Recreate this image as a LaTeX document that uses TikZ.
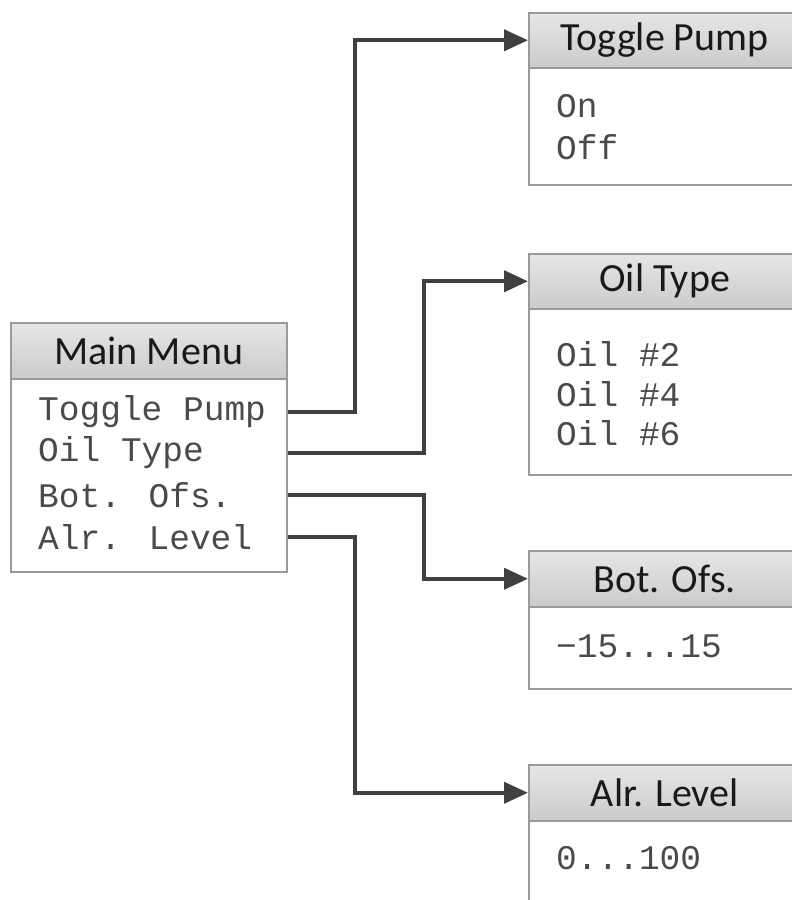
\documentclass[tikz,border=0pt]{standalone}
\usepackage{fontspec}
\setmainfont{Carlito}
\newfontfamily\menumono{Liberation Mono}
\usetikzlibrary{arrows.meta}
\definecolor{boxline}{HTML}{9A9A9A}
\definecolor{conncol}{HTML}{404040}
\definecolor{hdrtop}{HTML}{E6E6E6}
\definecolor{hdrbot}{HTML}{CBCBCB}
\definecolor{itemcol}{HTML}{4A4A4A}
\tikzset{
  hdr/.style={draw=boxline, line width=1.5pt, top color=hdrtop, bottom color=hdrbot,
    anchor=north west, inner sep=0pt, text=black!90,
    font=\fontsize{40}{45}\selectfont},
  bodybox/.style={draw=boxline, line width=1.5pt, fill=white, anchor=north west, inner sep=0pt},
  item/.style={anchor=west, inner sep=0pt, text=itemcol, font=\menumono\fontsize{34.5}{40}\selectfont},
  conn/.style={draw=conncol, line width=4pt, -{Triangle[length=24pt,width=21pt]}},
}
\begin{document}
\begin{tikzpicture}[x=1pt,y=-1pt]
\useasboundingbox (0,0) rectangle (792,900);
\clip (0,0) rectangle (792,900);
% Main menu
\node[bodybox, minimum width=276pt, minimum height=193pt] (mmb) at (10,378) {};
\node[hdr, minimum width=276pt, minimum height=56pt] (mmh) at (10,322) {Main Menu};
\node[item] (i1) at (38,412) {Toggle Pump};
\node[item] (i2) at (38,453) {Oil Type};
\node[item] (i3) at (38,495) {Bot. Ofs.};
\node[item] (i4) at (38,537) {Alr. Level};
% Toggle Pump
\node[bodybox, minimum width=272pt, minimum height=117pt] (tpb) at (528,67) {};
\node[hdr, minimum width=272pt, minimum height=55pt] (tph) at (528,12) {Toggle Pump};
\node[item] (tp1) at (556,106) {On};
\node[item] (tp2) at (556,147) {Off};
% Oil Type
\node[bodybox, minimum width=272pt, minimum height=166pt] (otb) at (528,308) {};
\node[hdr, minimum width=272pt, minimum height=55pt] (oth) at (528,253) {Oil Type};
\node[item] (ot1) at (556,354) {Oil \#2};
\node[item] (ot2) at (556,394) {Oil \#4};
\node[item] (ot3) at (556,433) {Oil \#6};
% Bot. Ofs.
\node[bodybox, minimum width=272pt, minimum height=82pt] (bob) at (528,606) {};
\node[hdr, minimum width=272pt, minimum height=56pt] (boh) at (528,550) {Bot. Ofs.};
\node[item] (bo1) at (556,646) {−15...15};
% Alr. Level
\node[bodybox, minimum width=272pt, minimum height=110pt] (alb) at (528,820) {};
\node[hdr, minimum width=272pt, minimum height=56pt] (alh) at (528,764) {Alr. Level};
\node[item] (al1) at (556,858) {0...100};
% connectors
\coordinate (xa) at (355,0);
\coordinate (xb) at (424,0);
\draw[conn] (i1 -| mmb.east) -| (xa |- tph.west) -- (tph.west);
\draw[conn] (i2 -| mmb.east) -| (xb |- oth.west) -- (oth.west);
\draw[conn] (i3 -| mmb.east) -| (xb |- boh.west) -- (boh.west);
\draw[conn] (i4 -| mmb.east) -| (xa |- alh.west) -- (alh.west);
\end{tikzpicture}
\end{document}
